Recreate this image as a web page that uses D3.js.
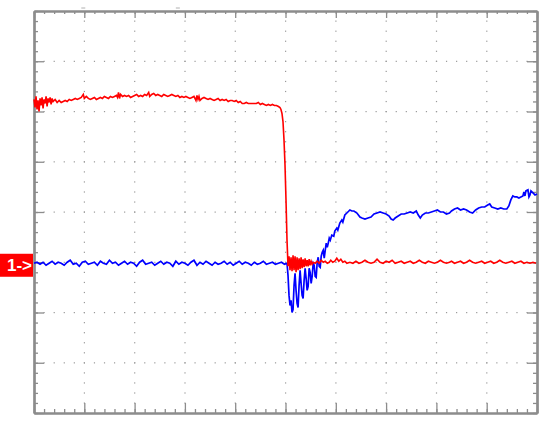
<!DOCTYPE html>
<html lang="en">
<head>
<meta charset="utf-8">
<title>Scope capture</title>
<script src="https://d3js.org/d3.v7.min.js"></script>
<style>
  body { margin: 0; background: #fff; }
</style>
</head>
<body>
<div id="mainDiv"></div>
<script>
// time in us (50 us/div), voltage in mV (50 mV/div)
const timeDivs = [0, 50, 100, 150, 200, 250, 300, 350, 400, 450, 500]
const voltDivs = [-200, -150, -100, -50, 0, 50, 100, 150, 200]
const ch1Ground = -53
const ch1Label = '1->'
const triggerMarks = [49, 143]

// channel 1 (red)
const redTrace = [
  [0,112],[1,104],[2,115],[3,102],[4,111],[5,100],[6,113],[7,106],[8,114],[9,103],
  [10,112],[11,108],[12,115],[13,105],[14,113],[15,109],[16,114],[17,107],[18,113],[19,110],
  [21,112],[23,109],[25,111],[27,109],[29,110],[31,111],[33,110],[35,112],[37,111],[39,112],
  [41,113],[43,112],[45,113],[47,114],[49,117],[50,113],[52,115],[54,113],[56,112],[58,113],
  [60,114],[62,112],[64,113],[66,114],[68,113],[70,115],[72,114],[74,113],[76,115],[78,114],
  [80,115],[82,116],[83,114],[84,119],[85,113],[86,117],[88,115],[90,116],[92,115],[94,116],
  [96,114],[98,115],[100,116],[102,117],[104,115],[106,116],[108,115],[110,117],[112,116],[114,119],
  [115,115],[117,117],[119,118],[121,116],[123,117],[125,116],[127,115],[129,117],[131,116],[133,115],
  [135,116],[137,117],[139,116],[141,115],[143,116],[145,114],[147,115],[149,114],[151,115],[153,114],
  [155,113],[157,114],[159,115],[161,111],[162,116],[163,112],[164,115],[165,111],[167,113],[169,114],
  [171,113],[173,112],[175,113],[177,112],[179,111],[181,112],[183,113],[185,111],[187,112],[189,111],
  [191,112],[193,110],[195,111],[197,111],[199,110],[201,111],[203,109],[205,110],[207,108],[209,108],
  [211,109],[213,108],[215,108],[217,108],[219,108],[221,108],[223,109],[225,107],[227,108],[229,107],
  [231,106],[233,107],[235,106],[237,107],[239,106],[241,106],[243,105],[244.5,104],[245.5,102],[246.5,98],
  [247.5,90],[248.5,72],[249.5,47],[250.5,12],[251.5,-28],[252.5,-54],[253.5,-44],[254.5,-58],[255.5,-45],[256.5,-59],
  [257.5,-43],[258.5,-58],[259.5,-44],[260.5,-60],[261.5,-45],[262.5,-58],[263.5,-46],[264.5,-57],[265.5,-45],[266.5,-56],
  [267.5,-47],[268.5,-55],[269.5,-46],[270.5,-54],[271.5,-48],[272.5,-54],[273.5,-47],[274.5,-53],[275.5,-49],[276.5,-52],
  [277.5,-50],[279.5,-51],[281.5,-49],[283.5,-51],[285.5,-48],[287.5,-50],[289.5,-49],[291.5,-51],[293.5,-50],[295,-48],
  [297,-50],[299,-49],[301,-46],[303,-49],[305,-47],[307,-50],[309,-49],[311,-51],[314,-50],[317,-51],
  [320,-49],[323,-51],[326,-50],[329,-48],[332,-50],[335,-51],[338,-50],[341,-47],[344,-50],[347,-51],
  [350,-49],[353,-50],[356,-48],[359,-51],[362,-50],[365,-49],[368,-51],[371,-50],[374,-49],[377,-51],
  [380,-50],[383,-48],[386,-50],[389,-51],[392,-49],[395,-50],[398,-51],[401,-50],[404,-48],[407,-50],
  [410,-51],[413,-50],[415,-49],[418,-51],[421,-50],[424,-49],[427,-51],[430,-50],[433,-48],[436,-50],
  [439,-51],[442,-50],[445,-49],[448,-51],[451,-50],[454,-49],[457,-51],[460,-50],[463,-48],[466,-50],
  [469,-51],[472,-50],[475,-49],[478,-51],[481,-50],[484,-49],[487,-51],[490,-50],[493,-51],[496,-50],
  [499,-51]
]

// channel 2 (blue)
const blueTrace = [
  [0,-51],[3,-50],[6,-52],[9,-50],[12,-53],[15,-51],[18,-49],[21,-52],[24,-50],[27,-51],
  [30,-53],[33,-50],[36,-48],[39,-52],[42,-51],[45,-54],[48,-50],[51,-49],[54,-52],[57,-51],
  [60,-50],[63,-53],[66,-49],[69,-51],[72,-52],[75,-48],[78,-51],[81,-50],[84,-53],[87,-51],
  [90,-49],[93,-52],[96,-50],[99,-51],[102,-54],[105,-50],[108,-48],[111,-52],[114,-51],[117,-50],
  [120,-53],[123,-51],[126,-49],[129,-52],[132,-50],[135,-51],[138,-54],[141,-49],[144,-52],[147,-50],
  [150,-51],[153,-53],[156,-50],[159,-48],[162,-53],[165,-50],[168,-52],[171,-49],[174,-51],[177,-53],
  [180,-50],[183,-52],[186,-51],[189,-49],[192,-52],[195,-50],[198,-53],[201,-51],[204,-49],[207,-52],
  [210,-50],[213,-51],[216,-53],[219,-50],[222,-52],[225,-51],[228,-49],[231,-52],[234,-51],[237,-50],
  [240,-52],[243,-51],[246,-50],[249,-52],[251.5,-51],[252.5,-63],[253.5,-83],[254.5,-93],[255.5,-88],[256.5,-100],
  [257.5,-97],[258.5,-73],[259.5,-61],[260.5,-78],[261.5,-91],[262.5,-95],[263.5,-73],[264.5,-58],[265.5,-71],[266.5,-83],
  [267.5,-86],[268.5,-68],[269.5,-56],[270.5,-66],[271.5,-78],[272.5,-74],[273.5,-56],[274.5,-60],[275.5,-71],[276.5,-64],
  [277.5,-51],[278.5,-53],[279.5,-64],[280.5,-65],[281.5,-50],[282.5,-45],[283.5,-54],[284.5,-55],[285.5,-44],[286.5,-40],
  [287.5,-38],[288.5,-46],[289.5,-38],[290.5,-31],[291.5,-35],[292.5,-31],[293.5,-26],[294.5,-28],[296,-23],[298,-24],
  [299,-19],[301,-16],[302,-18],[304,-11],[306,-8],[307,-10],[309,-3],[311,-1],[313,1],[314,2],
  [316,1],[318,1],[321,-1],[324,-5],[326,-6],[329,-7],[332,-6],[335,-5],[338,-2],[341,-1],
  [344,0],[347,-1],[350,-2],[353,-4],[355,-7],[357,-8],[359,-6],[362,-4],[365,-2],[368,-2],
  [371,-1],[374,0],[377,-1],[380,1],[382,-3],[384,-6],[386,-3],[389,-1],[392,-1],[395,0],
  [398,1],[401,2],[404,0],[407,0],[410,-2],[413,-1],[415,1],[418,3],[421,4],[424,2],
  [427,3],[430,2],[433,0],[436,-1],[439,2],[442,4],[445,5],[448,5],[451,7],[453,8],
  [455,5],[458,4],[461,3],[464,4],[467,3],[470,3],[472,6],[474,12],[476,16],[478,15],
  [480,15],[482,14],[484,15],[486,16],[487,20],[488,16],[489,21],[491,22],[492,15],[493,17],
  [494,21],[496,19],[498,17],[500,18]
]

const width = 550
const height = 431
const plot = { left: 34, right: 537, top: 11, bottom: 413 }

const svg = d3.select('#mainDiv').append('svg')
  .attr('width', width)
  .attr('height', height)

const x = d3.scaleLinear().domain([0, 500]).range([plot.left, plot.right])
const y = d3.scaleLinear().domain([-200, 200]).range([plot.bottom, plot.top])

const minorX = d3.range(0, 501, 10)
const minorY = d3.range(-200, 201, 10)
const gridGray = '#8c8c8c'

// dotted graticule
const dots = svg.append('g').attr('fill', '#9a9a9a')
timeDivs.slice(1, -1).forEach(t => {
  dots.selectAll(null).data(minorY.slice(1, -1)).enter().append('rect')
    .attr('x', x(t) - 0.5).attr('y', d => y(d) - 0.5)
    .attr('width', 1.2).attr('height', 1.2)
})
voltDivs.slice(1, -1).forEach(v => {
  dots.selectAll(null).data(minorX.slice(1, -1)).enter().append('rect')
    .attr('x', d => x(d) - 0.5).attr('y', y(v) - 0.5)
    .attr('width', 1.2).attr('height', 1.2)
})

// frame ticks: minor and major on each side, pointing in
function frameAxis(axisFn, scale, values, size, transform) {
  const g = svg.append('g')
    .attr('transform', transform)
    .call(axisFn(scale).tickValues(values).tickSizeInner(size).tickSizeOuter(0).tickFormat(''))
  g.selectAll('line').attr('stroke', gridGray).attr('stroke-width', 1.3)
  g.select('.domain').attr('stroke', gridGray).attr('stroke-width', 2.2)
  return g
}
frameAxis(d3.axisBottom, x, minorX, 3, `translate(0,${plot.top})`)
frameAxis(d3.axisBottom, x, timeDivs, 7, `translate(0,${plot.top})`)
frameAxis(d3.axisTop, x, minorX, 4, `translate(0,${plot.bottom})`)
frameAxis(d3.axisTop, x, timeDivs, 10, `translate(0,${plot.bottom})`)
frameAxis(d3.axisRight, y, minorY, 4, `translate(${plot.left},0)`)
frameAxis(d3.axisRight, y, voltDivs, 10, `translate(${plot.left},0)`)
frameAxis(d3.axisLeft, y, minorY, 4, `translate(${plot.right},0)`)
frameAxis(d3.axisLeft, y, voltDivs, 10, `translate(${plot.right},0)`)

// small trigger marks above the frame
svg.append('g').selectAll('line').data(triggerMarks).enter().append('line')
  .attr('x1', d => x(d) - 2).attr('x2', d => x(d) + 2)
  .attr('y1', plot.top - 3).attr('y2', plot.top - 3)
  .attr('stroke', '#b0b0b0').attr('stroke-width', 1)

const line = d3.line().x(d => x(d[0])).y(d => y(d[1]))

svg.append('path').datum(blueTrace)
  .attr('d', line)
  .attr('fill', 'none')
  .attr('stroke', '#0000ff')
  .attr('stroke-width', 1.7)

svg.append('path').datum(redTrace)
  .attr('d', line)
  .attr('fill', 'none')
  .attr('stroke', '#ff0000')
  .attr('stroke-width', 1.6)

// channel 1 ground marker
const gy = y(ch1Ground)
svg.append('rect')
  .attr('x', 0).attr('y', gy - 11.5)
  .attr('width', 33).attr('height', 23)
  .attr('fill', '#ff0000')
svg.append('text')
  .attr('x', 7).attr('y', gy + 6)
  .attr('fill', '#fff')
  .attr('font-family', 'Liberation Sans, Arial, sans-serif')
  .attr('font-weight', 'bold')
  .attr('font-size', 17)
  .text(ch1Label)
</script>
</body>
</html>
